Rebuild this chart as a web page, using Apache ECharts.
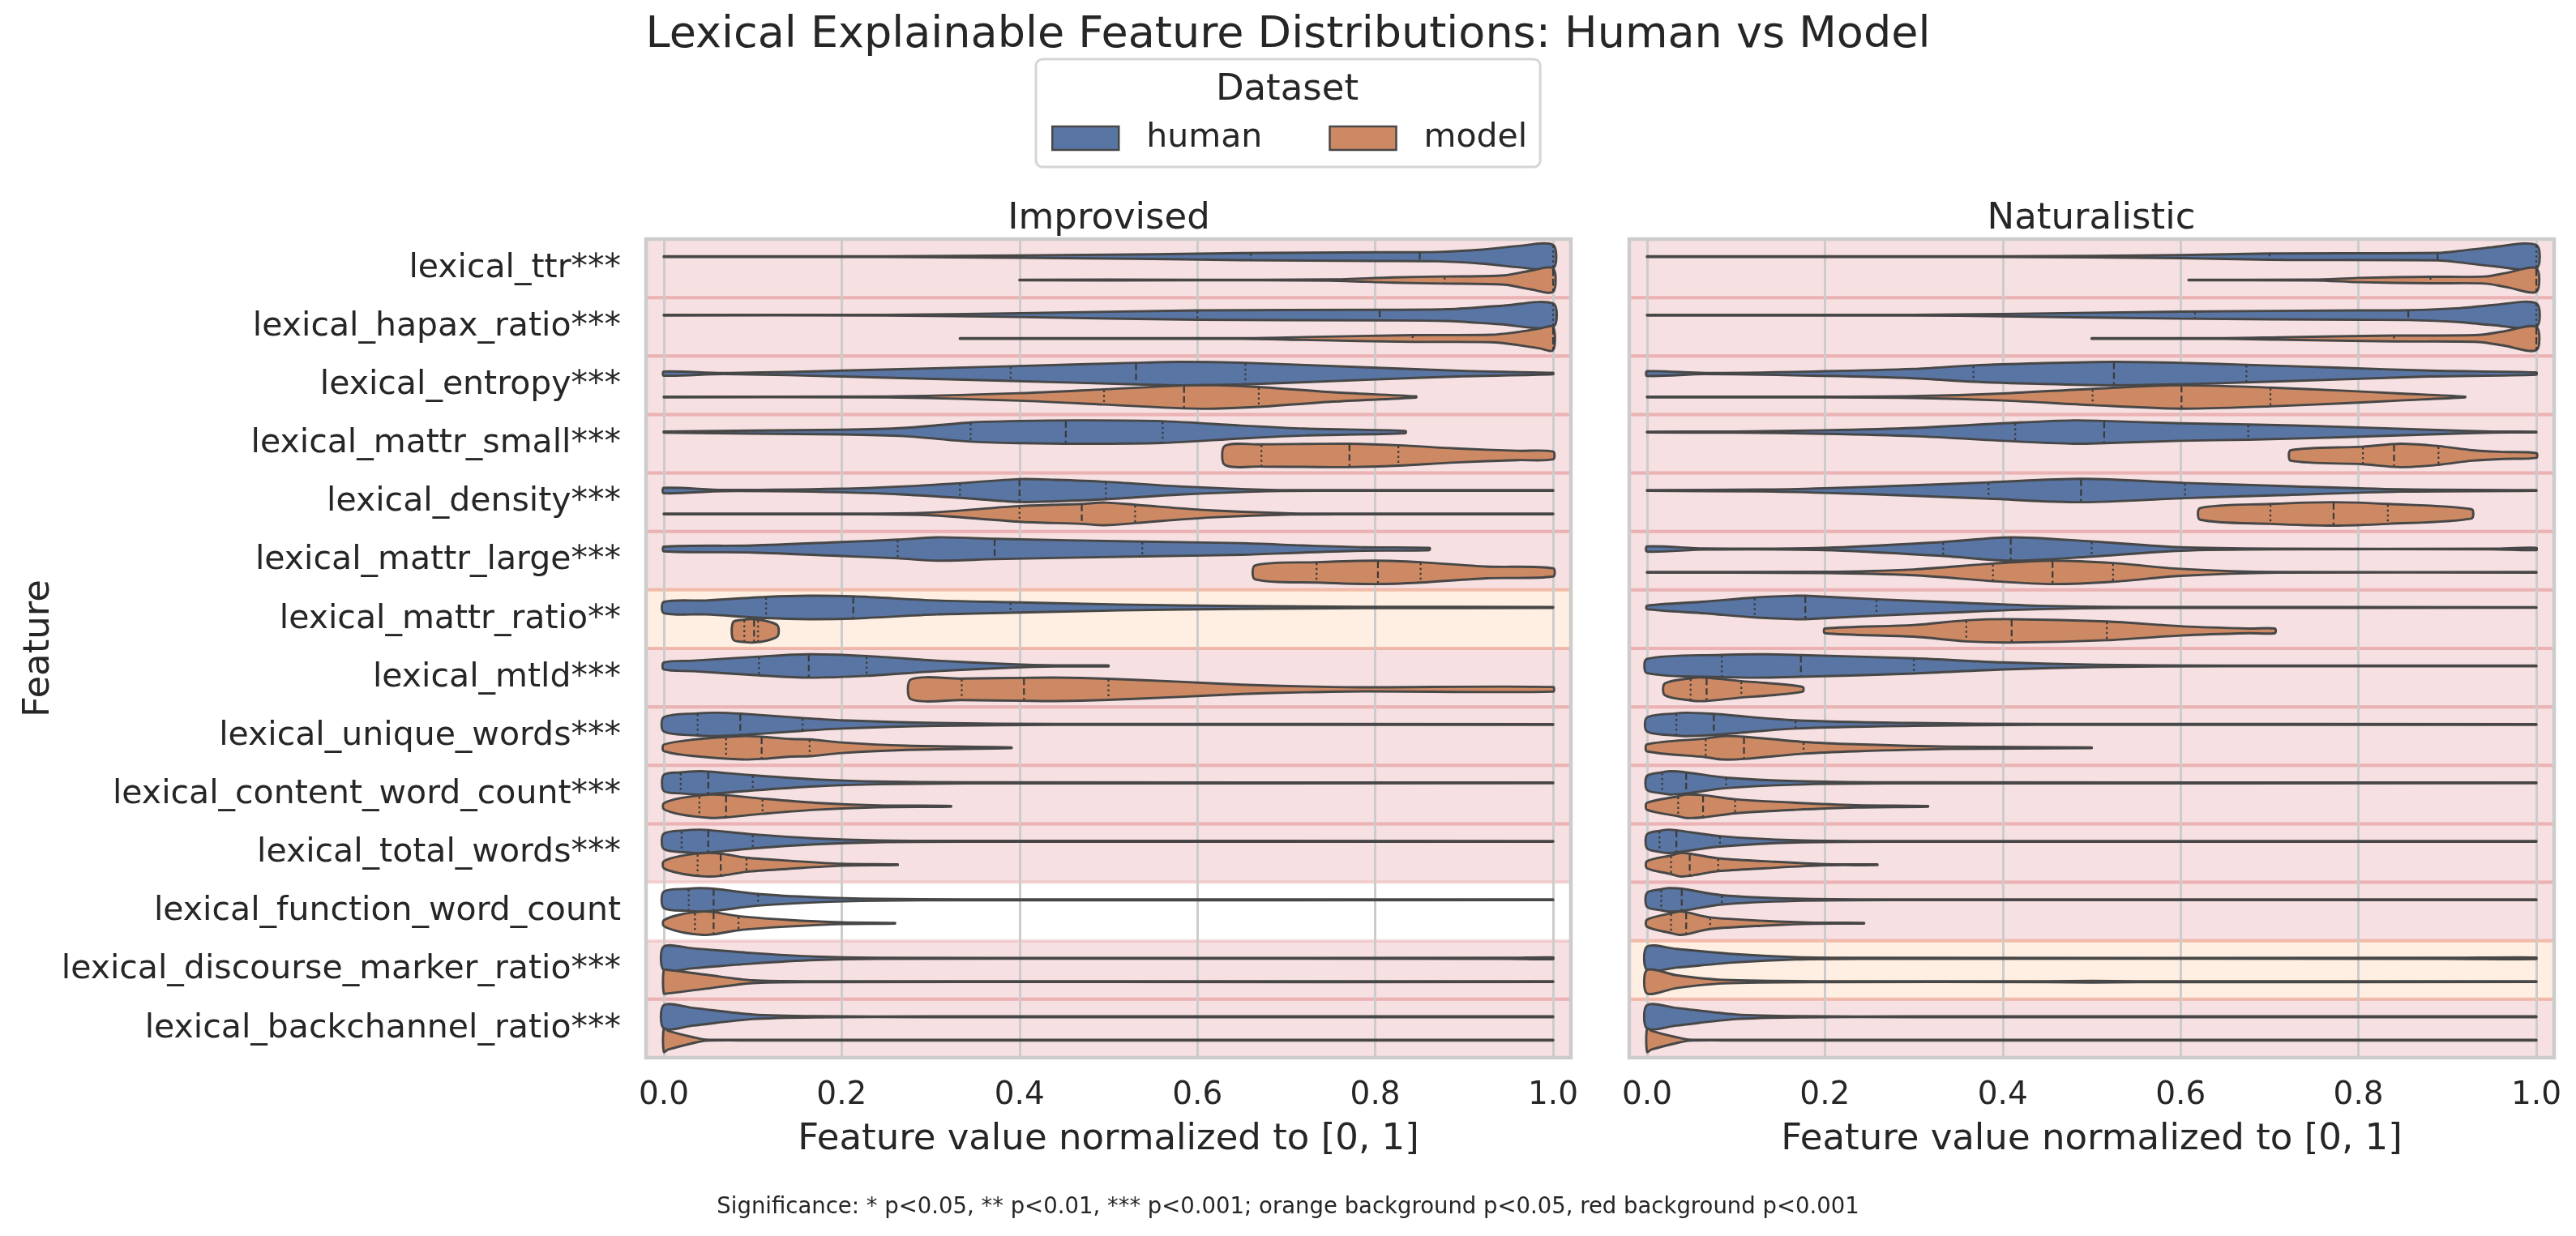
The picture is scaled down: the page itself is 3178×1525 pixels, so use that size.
<!DOCTYPE html>
<html>
<head>
<meta charset="utf-8">
<script src="https://cdn.jsdelivr.net/npm/echarts@6/dist/echarts.min.js"></script>
<style>
  html, body { margin: 0; padding: 0; background: #fff; }
  #chart { width: 3178px; height: 1525px; }
</style>
</head>
<body>
<div id="chart"></div>
<script>
// y categories (top to bottom)
const features = [
  'lexical_ttr***', 'lexical_hapax_ratio***', 'lexical_entropy***', 'lexical_mattr_small***',
  'lexical_density***', 'lexical_mattr_large***', 'lexical_mattr_ratio**', 'lexical_mtld***',
  'lexical_unique_words***', 'lexical_content_word_count***', 'lexical_total_words***',
  'lexical_function_word_count', 'lexical_discourse_marker_ratio***', 'lexical_backchannel_ratio***'
];
const panels = ['Improvised', 'Naturalistic'];
const groups = ['human', 'model'];
const xTicks = [0, 0.2, 0.4, 0.6, 0.8, 1.0];

// significance band per row
const improvisedSig = ['p001','p001','p001','p001','p001','p001','p05','p001','p001','p001','p001','ns','p001','p001'];
const naturalisticSig = ['p001','p001','p001','p001','p001','p001','p001','p001','p001','p001','p001','p001','p05','p001'];

// violin outlines: [value, relative half width]
const improvisedHuman = [
  [[0,0.02],[0.25,0.03],[0.4,0.1],[0.55,0.2],[0.65,0.3],[0.8,0.37],[0.87,0.4],[0.92,0.6],[0.96,0.9],[1,1]],
  [[0,0.02],[0.25,0.03],[0.4,0.16],[0.6,0.4],[0.8,0.45],[0.88,0.5],[0.94,0.78],[1,1]],
  [[0,0.18],[0.067,0.05],[0.2,0.25],[0.39,0.63],[0.53,0.92],[0.58,1],[0.654,0.92],[0.79,0.53],[0.9,0.23],[1,0.06]],
  [[0,0.05],[0.2,0.2],[0.27,0.35],[0.345,0.82],[0.4,0.95],[0.47,1],[0.56,0.93],[0.65,0.55],[0.72,0.3],[0.834,0.1]],
  [[0,0.23],[0.067,0.05],[0.2,0.15],[0.27,0.35],[0.333,0.63],[0.4,0.98],[0.44,0.92],[0.497,0.75],[0.58,0.35],[0.68,0.06],[0.75,0.02],[1,0.02]],
  [[0,0.2],[0.1,0.3],[0.2,0.6],[0.263,0.8],[0.307,1],[0.372,0.87],[0.538,0.63],[0.65,0.5],[0.72,0.3],[0.787,0.15],[0.861,0.1]],
  [[0,0.47],[0.047,0.6],[0.115,0.9],[0.163,1],[0.213,0.95],[0.307,0.6],[0.39,0.45],[0.513,0.25],[0.65,0.12],[0.787,0.06],[1,0.03]],
  [[0,0.3],[0.033,0.45],[0.107,0.8],[0.163,1],[0.228,0.85],[0.307,0.45],[0.39,0.15],[0.44,0.05],[0.5,0.04]],
  [[0,0.61],[0.038,0.95],[0.06,1],[0.086,0.92],[0.156,0.55],[0.2,0.35],[0.307,0.12],[0.44,0.04],[1,0.03]],
  [[0,0.69],[0.019,0.9],[0.04,1],[0.05,0.97],[0.1,0.65],[0.17,0.3],[0.24,0.12],[0.34,0.05],[1,0.03]],
  [[0,0.65],[0.026,0.95],[0.04,1],[0.05,0.97],[0.1,0.6],[0.17,0.25],[0.24,0.08],[0.34,0.04],[1,0.03]],
  [[0,0.7],[0.028,0.95],[0.04,1],[0.056,0.95],[0.106,0.5],[0.17,0.22],[0.24,0.08],[0.34,0.04],[1,0.03]],
  [[0,1],[0.033,0.85],[0.1,0.45],[0.17,0.15],[0.24,0.05],[0.5,0.03],[0.95,0.04],[1,0.08]],
  [[0,1],[0.033,0.75],[0.1,0.2],[0.17,0.05],[0.3,0.03],[1,0.03]]
];
const improvisedModel = [
  [[0.4,0.02],[0.6,0.02],[0.75,0.05],[0.82,0.23],[0.876,0.3],[0.945,0.4],[0.975,0.8],[1,1]],
  [[0.333,0.02],[0.65,0.03],[0.72,0.12],[0.842,0.29],[0.93,0.32],[0.96,0.55],[0.985,0.85],[1,1]],
  [[0,0.02],[0.25,0.04],[0.4,0.32],[0.495,0.65],[0.585,0.98],[0.62,1],[0.669,0.85],[0.753,0.4],[0.846,0.05]],
  [[0.631,0.82],[0.671,0.95],[0.72,0.98],[0.77,1],[0.826,0.87],[0.89,0.6],[0.96,0.4],[1,0.33]],
  [[0,0.02],[0.22,0.03],[0.3,0.12],[0.4,0.67],[0.47,0.85],[0.496,0.97],[0.53,0.78],[0.616,0.3],[0.705,0.05],[0.8,0.02],[1,0.02]],
  [[0.665,0.6],[0.735,0.87],[0.8,1],[0.851,0.87],[0.925,0.5],[1,0.35]],
  [[0.078,0.75],[0.09,0.95],[0.1,1],[0.115,0.85],[0.128,0.45]],
  [[0.278,0.85],[0.335,0.92],[0.405,0.98],[0.44,1],[0.5,0.9],[0.58,0.65],[0.65,0.4],[0.72,0.25],[0.787,0.17],[1,0.2]],
  [[0,0.27],[0.033,0.7],[0.088,1],[0.11,0.95],[0.143,0.75],[0.164,0.72],[0.2,0.45],[0.273,0.18],[0.391,0.03]],
  [[0,0.25],[0.019,0.7],[0.053,1],[0.07,0.95],[0.111,0.65],[0.17,0.3],[0.24,0.08],[0.323,0.03]],
  [[0,0.3],[0.019,0.75],[0.046,1],[0.064,0.95],[0.093,0.6],[0.14,0.35],[0.2,0.08],[0.263,0.03]],
  [[0,0.25],[0.019,0.75],[0.044,1],[0.056,0.95],[0.084,0.6],[0.136,0.3],[0.2,0.07],[0.26,0.03]],
  [[0,1],[0.005,1],[0.047,0.6],[0.1,0.12],[0.17,0.04],[0.5,0.03],[1,0.03]],
  [[0,1],[0.005,0.8],[0.033,0.25],[0.047,0.05],[0.1,0.03],[1,0.03]]
];
const naturalisticHuman = [
  [[0,0.02],[0.4,0.03],[0.6,0.13],[0.7,0.27],[0.889,0.32],[0.915,0.5],[0.95,0.8],[1,1]],
  [[0,0.02],[0.3,0.03],[0.4,0.1],[0.6,0.3],[0.8,0.4],[0.856,0.42],[0.915,0.6],[0.95,0.85],[1,1]],
  [[0,0.2],[0.065,0.05],[0.2,0.2],[0.3,0.4],[0.367,0.7],[0.44,0.88],[0.525,1],[0.61,0.9],[0.674,0.75],[0.78,0.5],[0.88,0.25],[1,0.1]],
  [[0,0.03],[0.1,0.05],[0.2,0.15],[0.3,0.35],[0.414,0.8],[0.48,1],[0.514,0.95],[0.6,0.75],[0.676,0.65],[0.78,0.45],[0.88,0.2],[0.95,0.05],[1,0.03]],
  [[0,0.03],[0.13,0.08],[0.2,0.2],[0.3,0.45],[0.384,0.7],[0.49,1],[0.605,0.65],[0.71,0.4],[0.847,0.1],[1,0.03]],
  [[0,0.22],[0.065,0.05],[0.2,0.1],[0.333,0.6],[0.409,1],[0.5,0.65],[0.6,0.15],[0.71,0.03],[0.95,0.03],[1,0.1]],
  [[0,0.15],[0.065,0.5],[0.121,0.85],[0.167,1],[0.178,1],[0.258,0.7],[0.337,0.45],[0.44,0.15],[0.54,0.04],[1,0.02]],
  [[0,0.6],[0.084,0.95],[0.133,1],[0.173,0.93],[0.3,0.65],[0.4,0.3],[0.507,0.1],[0.643,0.03],[1,0.02]],
  [[0,0.6],[0.033,0.95],[0.044,1],[0.075,0.9],[0.167,0.35],[0.3,0.12],[0.44,0.04],[1,0.03]],
  [[0,0.6],[0.017,0.9],[0.027,1],[0.044,0.9],[0.089,0.45],[0.167,0.15],[0.27,0.05],[1,0.03]],
  [[0,0.6],[0.014,0.9],[0.024,1],[0.033,0.95],[0.082,0.45],[0.167,0.1],[0.27,0.03],[1,0.03]],
  [[0,0.6],[0.016,0.9],[0.024,1],[0.039,0.95],[0.084,0.4],[0.167,0.1],[0.27,0.03],[1,0.03]],
  [[0,1],[0.033,0.8],[0.1,0.35],[0.167,0.1],[0.24,0.04],[0.9,0.04],[1,0.07]],
  [[0,1],[0.033,0.75],[0.1,0.2],[0.17,0.05],[0.3,0.03],[1,0.03]]
];
const naturalisticModel = [
  [[0.609,0.02],[0.75,0.03],[0.8,0.18],[0.881,0.28],[0.942,0.3],[0.966,0.6],[1,1]],
  [[0.5,0.02],[0.65,0.03],[0.71,0.1],[0.84,0.25],[0.935,0.3],[0.963,0.6],[1,1]],
  [[0,0.02],[0.2,0.03],[0.3,0.08],[0.4,0.3],[0.501,0.7],[0.601,1],[0.701,0.8],[0.78,0.55],[0.847,0.3],[0.92,0.03]],
  [[0.724,0.45],[0.805,0.75],[0.847,1],[0.89,0.8],[0.928,0.45],[0.963,0.3],[1,0.2]],
  [[0.622,0.5],[0.701,0.85],[0.772,1],[0.833,0.85],[0.927,0.4]],
  [[0,0.02],[0.2,0.05],[0.3,0.25],[0.389,0.75],[0.456,1],[0.524,0.8],[0.6,0.3],[0.71,0.03],[1,0.02]],
  [[0.2,0.2],[0.3,0.5],[0.359,0.9],[0.41,1],[0.517,0.8],[0.6,0.4],[0.677,0.2],[0.706,0.2]],
  [[0.02,0.5],[0.049,0.95],[0.065,1],[0.106,0.7],[0.133,0.55],[0.175,0.2]],
  [[0,0.3],[0.066,0.8],[0.085,1],[0.109,0.95],[0.176,0.5],[0.235,0.3],[0.337,0.1],[0.5,0.03]],
  [[0,0.3],[0.035,0.85],[0.044,1],[0.063,0.95],[0.099,0.6],[0.167,0.3],[0.235,0.1],[0.316,0.03]],
  [[0,0.3],[0.027,0.8],[0.037,1],[0.048,0.95],[0.08,0.55],[0.133,0.3],[0.2,0.05],[0.259,0.03]],
  [[0,0.3],[0.027,0.85],[0.037,1],[0.044,0.95],[0.071,0.5],[0.133,0.2],[0.187,0.05],[0.244,0.03]],
  [[0,1],[0.033,0.55],[0.085,0.15],[0.2,0.04],[0.45,0.04],[0.5,0.07],[0.55,0.04],[1,0.03]],
  [[0,1],[0.005,0.8],[0.033,0.25],[0.047,0.05],[0.1,0.03],[1,0.03]]
];

// quartiles [q1, median, q3]; null where they all sit on 0
const improvisedHumanQ = [[0.66,0.85,1],[0.6,0.805,1],[0.39,0.531,0.654],[0.345,0.452,0.561],[0.333,0.4,0.497],[0.263,0.372,0.538],[0.115,0.213,0.39],[0.107,0.163,0.228],[0.038,0.086,0.156],[0.019,0.05,0.1],[0.02,0.05,0.1],[0.028,0.056,0.106],null,null];
const improvisedModelQ = [[0.878,1,1],[0.842,1,1],[0.495,0.585,0.669],[0.672,0.771,0.826],[0.4,0.47,0.53],[0.734,0.803,0.851],[0.0905,0.1015,0.106],[0.335,0.405,0.5],[0.07,0.11,0.164],[0.04,0.07,0.111],[0.038,0.064,0.093],[0.035,0.056,0.084],null,null];
const naturalisticHumanQ = [[0.7,0.889,1],[0.616,0.856,1],[0.367,0.525,0.674],[0.414,0.514,0.676],[0.384,0.488,0.605],[0.333,0.409,0.5],[0.121,0.178,0.258],[0.084,0.173,0.3],[0.033,0.075,0.167],[0.017,0.044,0.089],[0.014,0.033,0.082],[0.016,0.039,0.084],null,null];
const naturalisticModelQ = [[0.881,1,1],[0.84,1,1],[0.501,0.601,0.701],[0.805,0.84,0.89],[0.701,0.772,0.833],[0.389,0.456,0.524],[0.359,0.41,0.517],[0.049,0.067,0.106],[0.066,0.109,0.176],[0.035,0.063,0.099],[0.027,0.048,0.08],[0.027,0.044,0.071],null,null];

const TEXT = '#262626';
const FONT = 'DejaVu Sans';
const groupColor = { human: '#5875A4', model: '#CD8963' };
const bgFill = { p001: '#F7E0E1', p05: '#FEEFE2' };
const bgEdge = { p001: 'rgba(222,120,122,0.26)', p05: 'rgba(240,150,100,0.3)' };

const chart = echarts.init(document.getElementById('chart'));

function widthAt(prof, v) {
  for (let k = 1; k < prof.length; k++) {
    if (v <= prof[k][0]) {
      const [x0, w0] = prof[k - 1], [x1, w1] = prof[k];
      return x1 === x0 ? w1 : w0 + (w1 - w0) * (v - x0) / (x1 - x0);
    }
  }
  return prof[prof.length - 1][1];
}

function bgRender(sig) {
  return function (params, api) {
    const i = api.value(1);
    const kind = sig[i];
    if (!bgFill[kind]) return { type: 'group', children: [] };
    const band = api.size([0, 1])[1];
    const cy = api.coord([0, i])[1];
    const cs = params.coordSys;
    const children = [{
      type: 'rect', z2: 0,
      shape: { x: cs.x, y: cy - band / 2, width: cs.width, height: band },
      style: { fill: bgFill[kind] }
    }];
    [cy - band / 2, cy + band / 2].forEach(y => children.push({
      type: 'line', z2: 5,
      shape: { x1: cs.x, y1: y, x2: cs.x + cs.width, y2: y },
      style: { stroke: bgEdge[kind], lineWidth: 4 }
    }));
    return { type: 'group', children };
  };
}

function violinRender(profiles, quarts, side, color) {
  return function (params, api) {
    const i = api.value(1);
    const prof = profiles[i];
    const band = api.size([0, 1])[1];
    const cy = api.coord([0, i])[1] + side * 0.2 * band;
    const hw = 0.2 * band;
    const up = [], lo = [];
    prof.forEach(([x, w]) => {
      const px = api.coord([x, i])[0];
      const h = Math.max(w * hw, 0.4);
      up.push([px, cy - h]);
      lo.unshift([px, cy + h]);
    });
    const children = [{
      type: 'polygon',
      shape: { points: up.concat(lo), smooth: 0.3 },
      style: { fill: color, stroke: '#474747', lineWidth: 2.9, lineJoin: 'round' }
    }];
    const q = quarts[i];
    if (q) q.forEach((v, k) => {
      const h = widthAt(prof, v) * hw - 1;
      const px = api.coord([v, i])[0];
      children.push({
        type: 'line',
        shape: { x1: px, y1: cy - h, x2: px, y2: cy + h },
        style: { stroke: '#3a3a3a', lineWidth: 2.2, lineDash: k === 1 ? [8, 4] : [2.5, 3.5] }
      });
    });
    return { type: 'group', children };
  };
}

const grids = [
  { left: 797, top: 295, width: 1141, height: 1010 },
  { left: 2010, top: 295, width: 1141, height: 1010 }
];

const xAxes = grids.map((g, gi) => ({
  type: 'value', gridIndex: gi, min: -0.02, max: 1.02,
  axisLine: { show: false },
  axisTick: { show: false, customValues: xTicks },
  axisLabel: { customValues: xTicks, formatter: v => v.toFixed(1), fontSize: 39, color: TEXT, fontFamily: FONT, margin: 27 },
  splitLine: { show: true, lineStyle: { color: '#cccccc', width: 3 } },
  name: 'Feature value normalized to [0, 1]',
  nameLocation: 'middle', nameGap: 79,
  nameTextStyle: { fontSize: 45, color: TEXT, fontFamily: FONT }
}));

const yAxes = grids.map((g, gi) => ({
  type: 'category', gridIndex: gi, data: features, inverse: true,
  axisLine: { show: false }, axisTick: { show: false },
  axisLabel: { show: gi === 0, fontSize: 41, color: TEXT, fontFamily: FONT, margin: 31 },
  splitLine: { show: false },
  name: gi === 0 ? 'Feature' : '',
  nameLocation: 'middle', nameGap: 726, nameRotate: 90,
  nameTextStyle: { fontSize: 45, color: TEXT, fontFamily: FONT }
}));

const sigs = [improvisedSig, naturalisticSig];
const violinSets = [
  [[improvisedHuman, improvisedHumanQ], [improvisedModel, improvisedModelQ]],
  [[naturalisticHuman, naturalisticHumanQ], [naturalisticModel, naturalisticModelQ]]
];

const series = [];
panels.forEach((p, gi) => {
  series.push({
    type: 'custom', name: p + ' background', xAxisIndex: gi, yAxisIndex: gi, z: -1,
    silent: true, renderItem: bgRender(sigs[gi]),
    data: features.map((f, i) => [0, i]),
    encode: { x: 0, y: 1 }
  });
  groups.forEach((grp, k) => {
    const [prof, quart] = violinSets[gi][k];
    series.push({
      type: 'custom', name: grp, xAxisIndex: gi, yAxisIndex: gi, z: 3,
      itemStyle: { color: groupColor[grp] },
      renderItem: violinRender(prof, quart, k === 0 ? -1 : 1, groupColor[grp]),
      data: features.map((f, i) => [quart[i] ? quart[i][1] : 0, i]),
      encode: { x: 0, y: 1 }
    });
  });
});

chart.setOption({
  animation: false,
  backgroundColor: '#ffffff',
  textStyle: { fontFamily: FONT, color: TEXT },
  title: {
    text: 'Lexical Explainable Feature Distributions: Human vs Model',
    left: 'center', top: 17, padding: 0,
    textStyle: { fontSize: 54, fontWeight: 'normal', color: TEXT, fontFamily: FONT }
  },
  legend: {
    data: groups.map(g => ({ name: g, icon: 'rect', itemStyle: { color: groupColor[g], borderColor: '#474747', borderWidth: 2.5 } })),
    left: 1278, top: 73, orient: 'horizontal',
    itemWidth: 82, itemHeight: 29, itemGap: 82,
    padding: [77, 16, 15, 19],
    borderColor: '#d6d6d6', borderWidth: 3, borderRadius: 8, backgroundColor: '#ffffff',
    selectedMode: false,
    formatter: name => '{gap|}' + name,
    textStyle: { fontSize: 41, color: TEXT, fontFamily: FONT, rich: { gap: { width: 29 } } }
  },
  grid: grids.map(g => Object.assign({ show: true, borderColor: '#cccccc', borderWidth: 4.5, backgroundColor: 'transparent' }, g)),
  xAxis: xAxes,
  yAxis: yAxes,
  graphic: [
    { type: 'text', z: 100, x: 1588, y: 111, style: { text: 'Dataset', fontSize: 45, fill: TEXT, fontFamily: FONT, align: 'center', verticalAlign: 'middle' } },
    { type: 'text', z: 100, x: 1368, y: 270, style: { text: panels[0], fontSize: 45, fill: TEXT, fontFamily: FONT, align: 'center', verticalAlign: 'middle' } },
    { type: 'text', z: 100, x: 2580, y: 270, style: { text: panels[1], fontSize: 45, fill: TEXT, fontFamily: FONT, align: 'center', verticalAlign: 'middle' } },
    { type: 'text', z: 100, x: 1589, y: 1490, style: { text: 'Significance: * p<0.05, ** p<0.01, *** p<0.001; orange background p<0.05, red background p<0.001', fontSize: 27.5, fill: TEXT, fontFamily: FONT, align: 'center', verticalAlign: 'middle' } }
  ],
  series
});
</script>
</body>
</html>
